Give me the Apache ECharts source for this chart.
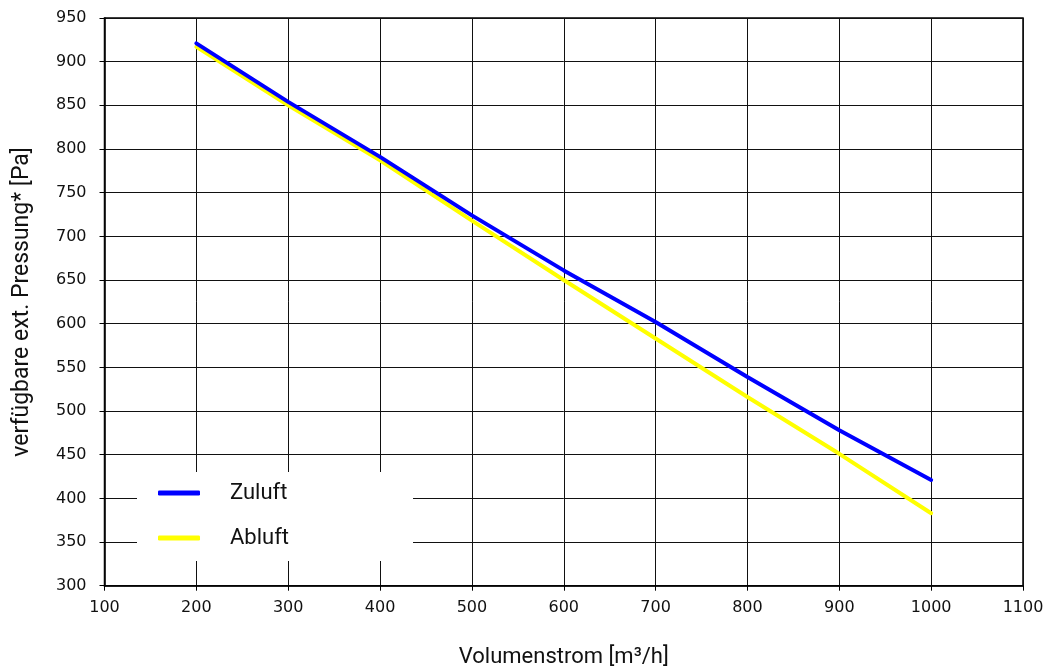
<!DOCTYPE html>
<html>
<head>
<meta charset="utf-8">
<script src="https://cdn.jsdelivr.net/npm/echarts@6/dist/echarts.min.js"></script>
<style>
html,body{margin:0;padding:0;background:#fff;}
#chart{width:1049px;height:670px;}
</style>
</head>
<body>
<div id="chart"></div>
<script>
const volumenstrom = [200, 300, 400, 500, 600, 700, 800, 900, 1000];
const zuluft = [921, 854, 791, 724, 661, 602, 539, 478, 421];
const abluft = [917, 850, 787, 718, 650, 583, 516, 451, 383];
const seriesNames = ['Zuluft', 'Abluft'];
const xAxisTitle = 'Volumenstrom [m³/h]';
const yAxisTitle = 'verfügbare ext. Pressung* [Pa]';

const chart = echarts.init(document.getElementById('chart'), null, {renderer: 'canvas'});
const pairs = (xs, ys) => xs.map((x, i) => [x, ys[i]]);

chart.setOption({
  animation: false,
  backgroundColor: '#fff',
  grid: {
    left: 104.5, right: 26, top: 18, bottom: 84.3,
    outerBoundsMode: 'none', containLabel: false,
    show: true, borderColor: '#000', borderWidth: 1.5, backgroundColor: 'transparent'
  },
  legend: {
    orient: 'vertical',
    left: 137, top: 472,
    backgroundColor: '#fff',
    padding: [10, 124, 12, 21],
    itemWidth: 42, itemHeight: 5,
    itemGap: 23,
    icon: 'roundRect',
    textStyle: {fontFamily: 'Roboto', fontSize: 22, color: '#111', lineHeight: 22, padding: [0, 0, 0, 25]},
    data: seriesNames
  },
  xAxis: {
    type: 'value', min: 100, max: 1100, interval: 100,
    name: xAxisTitle, nameLocation: 'middle', nameGap: 61,
    nameTextStyle: {fontFamily: 'Roboto', fontSize: 22, color: '#111', lineHeight: 22},
    axisLine: {show: true, lineStyle: {color: '#000', width: 1.5}},
    axisTick: {show: true, length: 5, lineStyle: {color: '#000'}},
    axisLabel: {margin: 14, fontFamily: 'DejaVu Sans', fontSize: 16, color: '#111', formatter: v => String(v)},
    splitLine: {show: true, lineStyle: {color: '#111', width: 1}}
  },
  yAxis: {
    type: 'value', min: 300, max: 950, interval: 50,
    name: yAxisTitle, nameLocation: 'middle', nameGap: 71, nameRotate: 90,
    nameTextStyle: {fontFamily: 'Roboto', fontSize: 23, color: '#111'},
    axisLine: {show: true, lineStyle: {color: '#000', width: 1.5}},
    axisTick: {show: true, length: 5, lineStyle: {color: '#000'}},
    axisLabel: {margin: 18, fontFamily: 'DejaVu Sans', fontSize: 16, color: '#111', formatter: v => String(v)},
    splitLine: {show: true, lineStyle: {color: '#111', width: 1}}
  },
  series: [
    {
      name: seriesNames[0], type: 'line', data: pairs(volumenstrom, zuluft),
      showSymbol: false, symbol: 'none', z: 3,
      lineStyle: {color: '#0000ff', width: 4, cap: 'round'},
      itemStyle: {color: '#0000ff'}
    },
    {
      name: seriesNames[1], type: 'line', data: pairs(volumenstrom, abluft),
      showSymbol: false, symbol: 'none', z: 2,
      lineStyle: {color: '#ffff00', width: 4, cap: 'round'},
      itemStyle: {color: '#ffff00'}
    }
  ]
});
</script>
</body>
</html>
